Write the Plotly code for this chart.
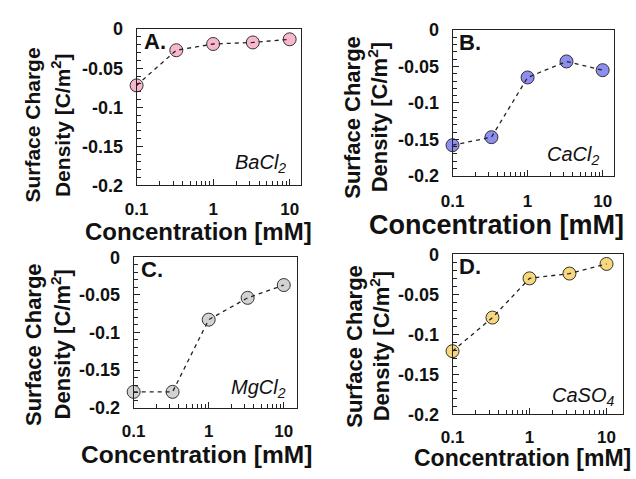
import plotly.graph_objects as go

concentration = [0.1, 0.33, 1, 3.3, 10]
bacl2 = [-0.072, -0.027, -0.019, -0.017, -0.013]
cacl2 = [-0.158, -0.147, -0.065, -0.043, -0.055]
mgcl2 = [-0.179, -0.179, -0.083, -0.054, -0.037]
caso4 = [-0.121, -0.079, -0.030, -0.024, -0.012]

panels = ["A.", "B.", "C.", "D."]
salts = ["BaCl<sub>2</sub>", "CaCl<sub>2</sub>", "MgCl<sub>2</sub>", "CaSO<sub>4</sub>"]
series = [bacl2, cacl2, mgcl2, caso4]
colors = ["#F6B8CA", "#8E8EF0", "#D2D2D2", "#F6D77C"]
y_ticks = [0, -0.05, -0.1, -0.15, -0.2]
y_tick_text = ["0", "-0.05", "-0.1", "-0.15", "-0.2"]
x_ticks = [0.1, 1, 10]
x_tick_text = ["0.1", "1", "10"]
ytitle_lines = ["<b>Surface Charge</b>", "<b>Density [C/m<sup>2</sup>]</b>"]
xtitle = "<b>Concentration [mM]</b>"

W, H = 636, 479
# plot boxes in pixels: left, right, top, bottom
boxes = [(127, 295, 20, 183), (449, 614, 21, 173), (124, 290, 258, 415), (449, 623, 255, 422)]
xmax = [1.154, 1.157, 1.17, 1.217]
# (line1 x, line2 x, y center)
ytitle_pos = [(21, 50, 120), (347, 373, 112), (22, 50, 349), (349, 375, 351)]
ytitle_size = [21, 22, 22, 22]
xtitle_pos = [(190, 231), (494, 224), (188, 464), (520, 468)]
xtitle_size = [24, 27, 24.5, 23]
salt_pos = [(281, 160), (600, 152), (281, 395), (616, 403)]
xtick_standoff = [8, 10, 8, 7]

FONT = "Liberation Sans, Arial, sans-serif"

fig = go.Figure()
annotations = []
for i in range(4):
    l, r, t, b = boxes[i]
    xa = "x" if i == 0 else f"x{i+1}"
    ya = "y" if i == 0 else f"y{i+1}"
    # markers first, then dashed line on top
    fig.add_trace(go.Scatter(
        x=concentration, y=series[i], mode="markers", xaxis=xa, yaxis=ya,
        marker=dict(size=13, color=colors[i], line=dict(color="#333333", width=1)),
        showlegend=False, cliponaxis=False))
    fig.add_trace(go.Scatter(
        x=concentration, y=series[i], mode="lines", xaxis=xa, yaxis=ya,
        line=dict(color="#222222", width=1.3, dash="4px,4px"),
        showlegend=False, cliponaxis=False))
    xkey = "xaxis" if i == 0 else f"xaxis{i+1}"
    ykey = "yaxis" if i == 0 else f"yaxis{i+1}"
    fig.update_layout(**{
        xkey: dict(
            type="log", range=[-1, xmax[i]], domain=[l / W, r / W], anchor=ya,
            tickvals=x_ticks, ticktext=x_tick_text, ticks="inside", ticklen=6,
            tickcolor="#222", showline=True, linecolor="#222", linewidth=1, mirror=True,
            showgrid=False, zeroline=False, ticklabelstandoff=xtick_standoff[i],
            tickfont=dict(family=FONT, size=17, color="#111", weight="bold"),
            minor=dict(ticks="inside", ticklen=4, dtick="D1", tickcolor="#222", showgrid=False),
        ),
        ykey: dict(
            range=[-0.2, 0], domain=[1 - b / H, 1 - t / H], anchor=xa,
            tickvals=y_ticks, ticktext=y_tick_text, ticks="inside", ticklen=6,
            tickcolor="#222", showline=True, linecolor="#222", linewidth=1, mirror=True,
            showgrid=False, zeroline=False, ticklabelstandoff=9,
            tickfont=dict(family=FONT, size=18, color="#111", weight="bold"),
            minor=dict(ticks="inside", ticklen=4, dtick=0.01, tickcolor="#222", showgrid=False),
        ),
    })
    # panel letter
    annotations.append(dict(
        text=f"<b>{panels[i]}</b>", x=(l + 5) / W, y=1 - (t + 13) / H, xref="paper", yref="paper",
        xanchor="left", yanchor="middle", showarrow=False,
        font=dict(family=FONT, size=22, color="#111")))
    # salt label
    sx, sy = salt_pos[i]
    annotations.append(dict(
        text=f"<i>{salts[i]}</i>", x=sx / W, y=1 - sy / H, xref="paper", yref="paper",
        xanchor="right", yanchor="middle", showarrow=False,
        font=dict(family=FONT, size=20, color="#111")))
    # y title (two rotated lines)
    x1, x2, ty = ytitle_pos[i]
    for lx, txt in zip((x1, x2), ytitle_lines):
        annotations.append(dict(
            text=txt, x=lx / W, y=1 - ty / H,
            xref="paper", yref="paper", xanchor="center", yanchor="middle", textangle=-90,
            showarrow=False, font=dict(family=FONT, size=ytitle_size[i], color="#111")))
    # x title
    cx, cy = xtitle_pos[i]
    annotations.append(dict(
        text=xtitle, x=cx / W, y=1 - cy / H,
        xref="paper", yref="paper", xanchor="center", yanchor="middle",
        showarrow=False, font=dict(family=FONT, size=xtitle_size[i], color="#111")))

fig.update_layout(
    width=W, height=H, margin=dict(l=0, r=0, t=0, b=0),
    paper_bgcolor="white", plot_bgcolor="white", annotations=annotations,
)
fig.write_html("out.html", config={"displayModeBar": False},
               post_script="document.body.style.margin='0';document.body.style.padding='0';")
